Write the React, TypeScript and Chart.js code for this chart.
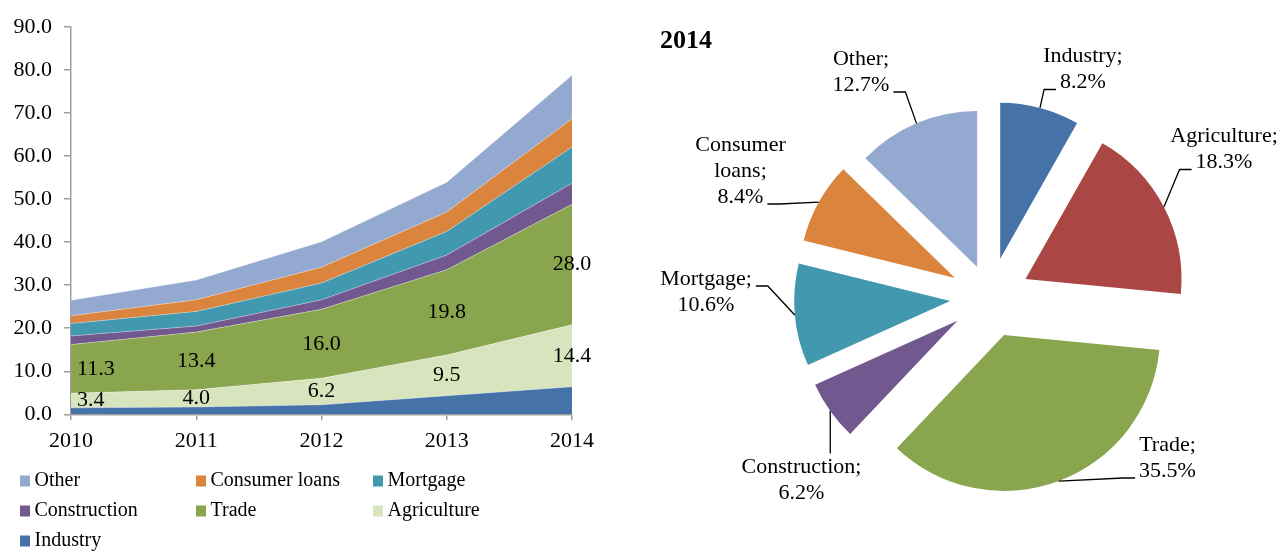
import React, { useEffect, useRef } from "react";
import { Chart, registerables } from "chart.js";

Chart.register(...registerables);
Chart.defaults.font.family = '"Liberation Serif", "Times New Roman", serif';

// ---------- data ----------
const years = ["2010", "2011", "2012", "2013", "2014"];
const industry = [1.5, 1.7, 2.2, 4.3, 6.4];
const agriculture = [3.4, 4.0, 6.2, 9.5, 14.4];
const trade = [11.3, 13.4, 16.0, 19.8, 28.0];
const construction = [2.0, 1.4, 2.2, 3.4, 4.9];
const mortgage = [2.9, 3.4, 3.9, 5.5, 8.4];
const consumerLoans = [1.8, 2.7, 3.7, 4.5, 6.6];
const other = [3.6, 4.6, 5.9, 6.9, 10.1];

const sectorNames = ["Industry", "Agriculture", "Trade", "Construction", "Mortgage", "Consumer loans", "Other"];
const share2014 = [8.2, 18.3, 35.5, 6.2, 10.6, 8.4, 12.7];
const pieTitle = "2014";

// ---------- styles ----------
const areaColors = ["#4572A7", "#D7E4BD", "#89A54E", "#71588F", "#4198AF", "#DB843D", "#93A9CF"];
const pieColors = ["#4572A7", "#AA4643", "#89A54E", "#71588F", "#4198AF", "#DB843D", "#93A9CF"];
const explode = [40, 40, 40, 40, 40, 40, 33];
const AXIS = "#a0a0a0";
const FONT = '"Liberation Serif", "Times New Roman", serif';

// label layout for the pie (offsets of label block centre from pie centre)
const pieLabelLayout = [
  { dx: 93, dy: -228, attach: "left", line: 1 },
  { dx: 234, dy: -148, attach: "left", line: 1 },
  { dx: 177.5, dy: 160.5, attach: "left", line: 1 },
  { dx: -188.5, dy: 183, attach: "top", line: 0 },
  { dx: -284, dy: -5.5, attach: "right", line: 0 },
  { dx: -249.5, dy: -126.5, attach: "right", line: 2 },
  { dx: -129, dy: -225.5, attach: "right", line: 1 },
];

const legendCols = [20, 196, 373];
const legendRows = [481, 511, 541];

const bandLabelPlugin = {
  id: "bandLabels",
  afterDatasetsDraw(chart: any) {
    const ctx = chart.ctx;
    ctx.save();
    ctx.font = `22px ${FONT}`;
    ctx.fillStyle = "#000";
    ctx.textBaseline = "middle";
    [1, 2].forEach((di) => {
      const meta = chart.getDatasetMeta(di);
      const below = chart.getDatasetMeta(di - 1);
      const vals = chart.data.datasets[di].data;
      meta.data.forEach((pt: any, i: number) => {
        const y = (pt.y + below.data[i].y) / 2;
        const first = i === 0;
        ctx.textAlign = first ? "left" : "center";
        ctx.fillText(Number(vals[i]).toFixed(1), first ? pt.x + 6 : pt.x, y);
      });
    });
    ctx.restore();
  },
};

const areaLegendPlugin = {
  id: "areaLegend",
  afterDraw(chart: any) {
    const ctx = chart.ctx;
    ctx.save();
    const ds = chart.data.datasets.slice().reverse();
    ds.forEach((d: any, k: number) => {
      const x = legendCols[k % 3];
      const y = legendRows[Math.floor(k / 3)];
      ctx.fillStyle = d.backgroundColor;
      ctx.fillRect(x, y - 5.5, 10, 11);
      ctx.fillStyle = "#000";
      ctx.font = `20px ${FONT}`;
      ctx.textBaseline = "middle";
      ctx.textAlign = "left";
      ctx.fillText(d.label, x + 14.5, y);
    });
    ctx.restore();
  },
};

const explodePlugin = {
  id: "explode",
  afterDatasetUpdate(chart: any, args: any) {
    const meta = chart.getDatasetMeta(args.index);
    meta.data.forEach((arc: any, i: number) => {
      const mid = (arc.startAngle + arc.endAngle) / 2;
      arc.x += Math.cos(mid) * explode[i];
      arc.y += Math.sin(mid) * explode[i];
    });
  },
};

const pieLabelPlugin = {
  id: "pieLabels",
  afterDraw(chart: any) {
    const ctx = chart.ctx;
    const ca = chart.chartArea;
    const cx = (ca.left + ca.right) / 2;
    const cy = (ca.top + ca.bottom) / 2;
    const meta = chart.getDatasetMeta(0);
    const names = chart.data.labels;
    const vals = chart.data.datasets[0].data;
    const LH = 26;
    ctx.save();
    // title
    ctx.font = `bold 26px ${FONT}`;
    ctx.fillStyle = "#000";
    ctx.textAlign = "left";
    ctx.textBaseline = "alphabetic";
    ctx.fillText(pieTitle, 20, 47.5);

    ctx.font = `22px ${FONT}`;
    meta.data.forEach((arc: any, i: number) => {
      const lay = pieLabelLayout[i];
      const words = String(names[i]).split(" ");
      const lines: string[] = [];
      if (words.length > 1) {
        words.forEach((w, k) => lines.push(k === words.length - 1 ? w + ";" : w));
      } else {
        lines.push(words[0] + ";");
      }
      lines.push(Number(vals[i]).toFixed(1) + "%");
      const bx = cx + lay.dx;
      const by = cy + lay.dy;
      const top = by - ((lines.length - 1) * LH) / 2;
      ctx.fillStyle = "#000";
      ctx.textAlign = "center";
      ctx.textBaseline = "middle";
      lines.forEach((l, k) => ctx.fillText(l, bx, top + k * LH));

      // leader line
      const mid = (arc.startAngle + arc.endAngle) / 2;
      const sx = arc.x + Math.cos(mid) * arc.outerRadius;
      const sy = arc.y + Math.sin(mid) * arc.outerRadius;
      const lw = ctx.measureText(lines[lay.line]).width;
      const ly = top + lay.line * LH + 7;
      ctx.strokeStyle = "#000";
      ctx.lineWidth = 1.3;
      ctx.beginPath();
      ctx.moveTo(sx, sy);
      if (lay.attach === "left") {
        const ex = bx - lw / 2 - 4;
        ctx.lineTo(ex - 12, ly);
        ctx.lineTo(ex, ly);
      } else if (lay.attach === "right") {
        const ex = bx + lw / 2 + 4;
        ctx.lineTo(ex + 12, ly);
        ctx.lineTo(ex, ly);
      } else {
        ctx.lineTo(sx, top - 14);
      }
      ctx.stroke();
    });
    ctx.restore();
  },
};

export default function App() {
  const areaRef = useRef<HTMLCanvasElement>(null);
  const pieRef = useRef<HTMLCanvasElement>(null);

  useEffect(() => {
    const series = [industry, agriculture, trade, construction, mortgage, consumerLoans, other];
    const area = new Chart(areaRef.current as HTMLCanvasElement, {
      type: "line",
      data: {
        labels: years,
        datasets: series.map((s, i) => ({
          label: sectorNames[i],
          data: s,
          backgroundColor: areaColors[i],
          borderColor: "rgba(255,255,255,0.35)",
          borderWidth: 1,
          pointRadius: 0,
          tension: 0,
          fill: i === 0 ? "origin" : "-1",
        })),
      },
      options: {
        responsive: false,
        animation: false,
        events: [],
        layout: { padding: { top: 27, right: 68, bottom: 97.7, left: 0 } },
        plugins: { legend: { display: false }, tooltip: { enabled: false } },
        scales: {
          x: {
            type: "category",
            offset: false,
            grid: { drawOnChartArea: false, drawTicks: true, tickLength: 6, color: AXIS, lineWidth: 1.5 },
            border: { display: true, color: AXIS, width: 1.5 },
            ticks: { font: { family: FONT, size: 22 }, color: "#000", padding: 8, maxRotation: 0, autoSkip: false },
            afterFit: (s: any) => { s.height = 40; },
          },
          y: {
            stacked: true,
            min: 0,
            max: 90,
            grid: { drawOnChartArea: false, drawTicks: true, tickLength: 7, color: AXIS, lineWidth: 1.5 },
            border: { display: true, color: AXIS, width: 1.5 },
            ticks: {
              stepSize: 10,
              font: { family: FONT, size: 22 },
              color: "#000",
              padding: 12,
              callback: (v: any) => Number(v).toFixed(1),
            },
            afterFit: (s: any) => { s.width = 71; },
          },
        },
      } as any,
      plugins: [bandLabelPlugin, areaLegendPlugin],
    });

    const pie = new Chart(pieRef.current as HTMLCanvasElement, {
      type: "pie",
      data: {
        labels: sectorNames,
        datasets: [
          {
            data: share2014,
            backgroundColor: pieColors,
            borderWidth: 0,
            radius: 156,
          } as any,
        ],
      },
      options: {
        responsive: false,
        animation: false,
        events: [],
        layout: { padding: { left: 59, right: 0, top: 43, bottom: 0 } },
        plugins: { legend: { display: false }, tooltip: { enabled: false } },
      } as any,
      plugins: [explodePlugin, pieLabelPlugin],
    });

    return () => {
      area.destroy();
      pie.destroy();
    };
  }, []);

  return (
    <div style={{ position: "absolute", left: 0, top: 0, width: 1281, height: 552, background: "#fff" }}>
      <canvas
        ref={areaRef}
        width={640}
        height={552}
        style={{ position: "absolute", left: 0, top: 0, width: 640, height: 552 }}
      />
      <canvas
        ref={pieRef}
        width={641}
        height={552}
        style={{ position: "absolute", left: 640, top: 0, width: 641, height: 552 }}
      />
    </div>
  );
}
